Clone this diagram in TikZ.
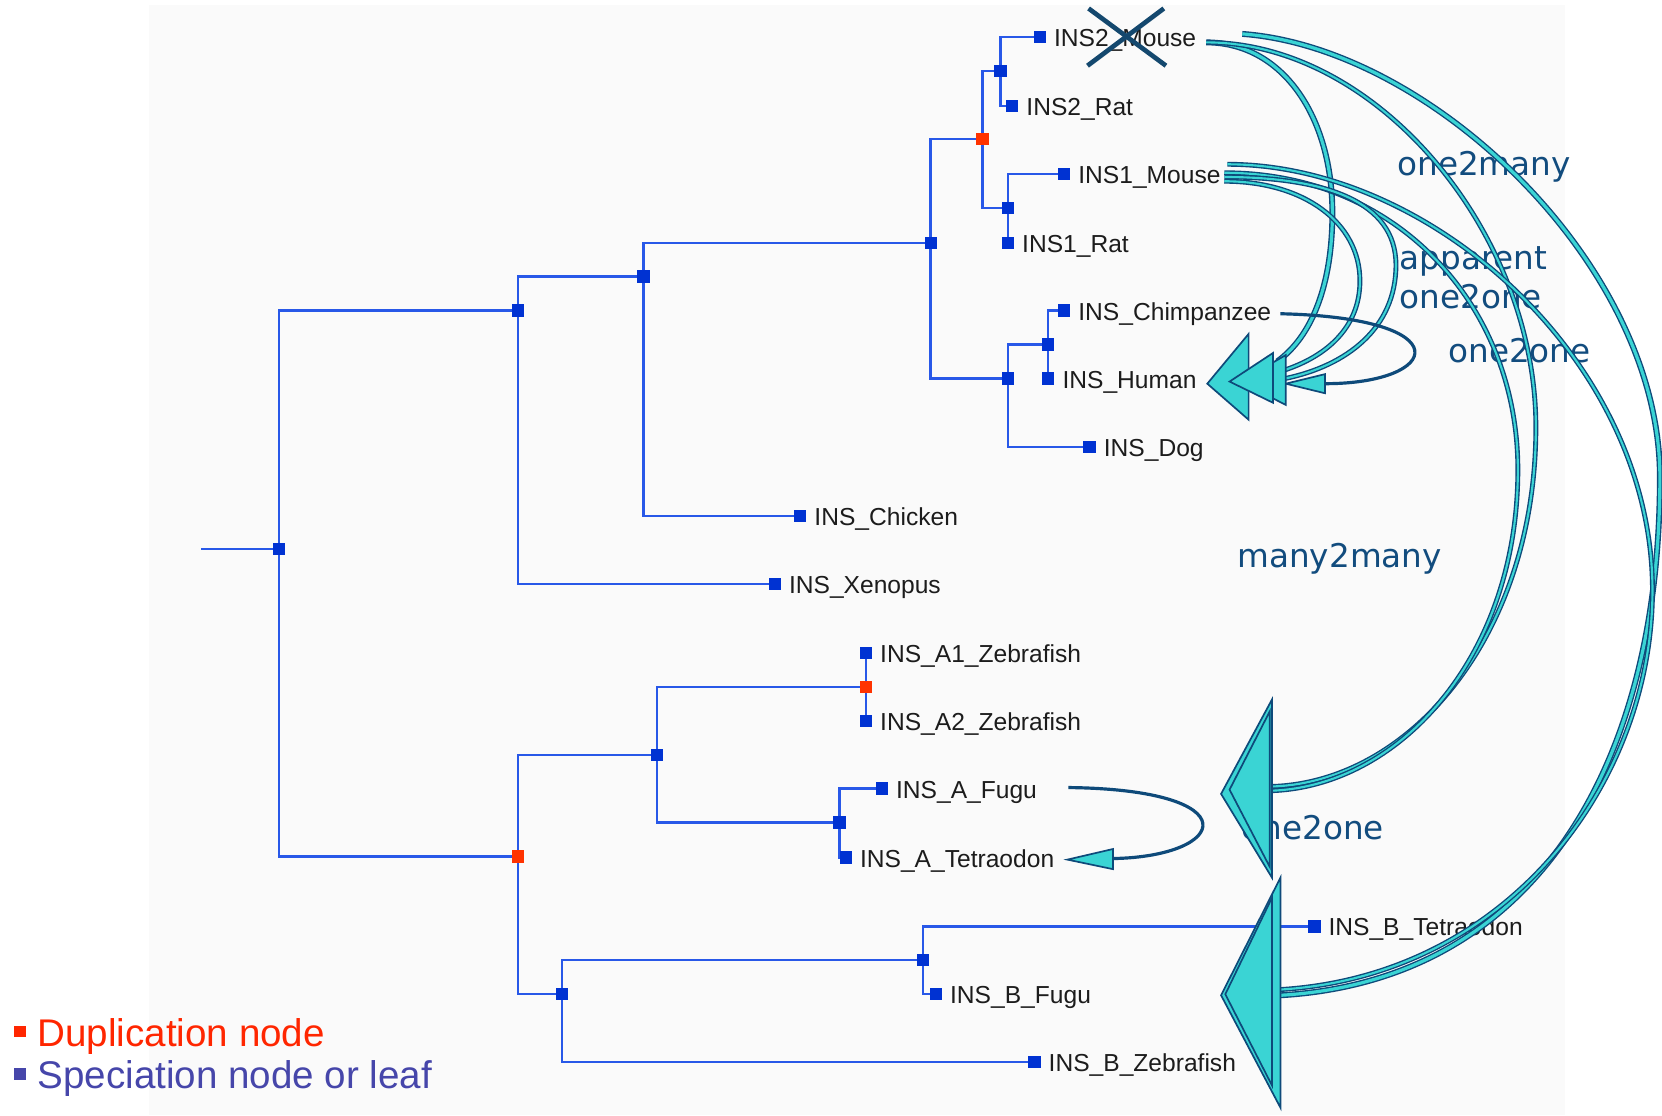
\documentclass[tikz,border=0pt]{standalone}
\usepackage{fontspec}
\setmainfont{Liberation Sans}
\newfontfamily\relfont{DejaVu Sans}
\usetikzlibrary{backgrounds}

\definecolor{panelgray}{RGB}{250,250,250}
\definecolor{treeblue}{RGB}{40,88,232}
\definecolor{specblue}{RGB}{0,50,210}
\definecolor{dupred}{RGB}{255,51,0}
\definecolor{labgray}{RGB}{28,28,28}
\definecolor{reldark}{RGB}{14,74,122}
\definecolor{relcyan}{RGB}{58,212,212}
\definecolor{reltextc}{RGB}{18,76,126}
\definecolor{crossc}{RGB}{20,72,110}
\definecolor{legred}{RGB}{255,38,0}
\definecolor{legblue}{RGB}{70,70,170}

\begin{document}
\begin{tikzpicture}[x=0.5pt,y=-0.5pt,
  spec/.style={rectangle, fill=specblue, minimum size=5.8pt, inner sep=0pt},
  dup/.style={rectangle, fill=dupred, minimum size=5.8pt, inner sep=0pt},
  lab/.style={anchor=base west, inner sep=0pt, text=labgray, font=\fontsize{11.6}{14}\selectfont},
  branch/.style={draw=treeblue, line width=1.1pt},
  rel/.style={draw=reldark, line width=0.65pt, double=relcyan, double distance=1.0pt},
  relthick/.style={rel, double distance=1.5pt},
  loopline/.style={draw=reldark, line width=1.5pt},
  head/.style={fill=relcyan, draw=reldark, line width=0.8pt, line join=miter},
  reltext/.style={anchor=base west, inner sep=0pt, text=reltextc, font=\relfont\fontsize{15.4}{18}\selectfont},
  legtext/.style={anchor=base west, inner sep=0pt, font=\fontsize{18.2}{22}\selectfont},
  legbox/.style={rectangle, minimum size=5.5pt, inner sep=0pt},
  crossline/.style={draw=crossc, line width=2.2pt}
]
\useasboundingbox (0,0) rectangle (1568,1052);

% ---------- tree: internal nodes ----------
\coordinate (stub) at (190,518);
\node[spec] (root) at (263,518) {};
\node[spec] (n1) at (489,293) {};
\node[spec] (n2) at (607,261) {};
\node[spec] (n3) at (878,229) {};
\node[dup]  (d1) at (927,131) {};
\node[spec] (n4) at (944,67) {};
\node[spec] (n5) at (951,196) {};
\node[spec] (n6) at (951,357) {};
\node[spec] (n7) at (989,325) {};
\node[dup]  (d2) at (489,808) {};
\node[spec] (n8) at (620,712) {};
\node[dup]  (d3) at (817,648) {};
\node[spec] (n9) at (792,776) {};
\node[spec] (n10) at (530,938) {};
\node[spec] (n11) at (871,906) {};

% ---------- tree: leaves ----------
\node[spec] (mouse2) at (981,35) {};
\node[spec] (rat2) at (955,100) {};
\node[spec] (mouse1) at (1004,164) {};
\node[spec] (rat1) at (951,229) {};
\node[spec] (chimp) at (1004,293) {};
\node[spec] (human) at (989,357) {};
\node[spec] (dog) at (1028,422) {};
\node[spec] (chicken) at (755,487) {};
\node[spec] (xenopus) at (731,551) {};
\node[spec] (zfa1) at (817,616) {};
\node[spec] (zfa2) at (817,680) {};
\node[spec] (fugua) at (832,744) {};
\node[spec] (tetra) at (798,809) {};
\node[spec] (tetrb) at (1240,874) {};
\node[spec] (fugub) at (883,938) {};
\node[spec] (zfb) at (976,1002) {};

\node[lab] (tmouse2) at (994,44) {INS2\_Mouse};
\node[lab] (trat2) at (968,109) {INS2\_Rat};
\node[lab] (tmouse1) at (1017,173) {INS1\_Mouse};
\node[lab] (trat1) at (964,238) {INS1\_Rat};
\node[lab] (tchimp) at (1017,302) {INS\_Chimpanzee};
\node[lab] (thuman) at (1002,367) {INS\_Human};
\node[lab] (tdog) at (1041,431) {INS\_Dog};
\node[lab] (tchicken) at (768,496) {INS\_Chicken};
\node[lab] (txenopus) at (744,560) {INS\_Xenopus};
\node[lab] (tzfa1) at (830,625) {INS\_A1\_Zebrafish};
\node[lab] (tzfa2) at (830,689) {INS\_A2\_Zebrafish};
\node[lab] (tfugua) at (845,753) {INS\_A\_Fugu};
\node[lab] (ttetra) at (811,818) {INS\_A\_Tetraodon};
\node[lab] (ttetrb) at (1253,883) {INS\_B\_Tetraodon};
\node[lab] (tfugub) at (896,947) {INS\_B\_Fugu};
\node[lab] (tzfb) at (989,1011) {INS\_B\_Zebrafish};

% ---------- panel and branches behind the markers ----------
\begin{scope}[on background layer]
  \fill[panelgray] (141,5) rectangle (1476,1052);
  \draw[branch] (stub) -- (root.center);
  \foreach \p/\c in {root/n1, root/d2, n1/n2, n1/xenopus, n2/n3, n2/chicken,
      n3/d1, n3/n6, d1/n4, d1/n5, n4/mouse2, n4/rat2, n5/mouse1, n5/rat1,
      n6/n7, n6/dog, n7/chimp, n7/human, d2/n8, d2/n10, n8/d3, n8/n9,
      d3/zfa1, d3/zfa2, n9/fugua, n9/tetra, n10/n11, n10/zfb,
      n11/tetrb, n11/fugub}
    \draw[branch] (\p.center) |- (\c.center);
\end{scope}

% ---------- lost gene ----------
\draw[crossline] (1027,8) -- (1100,62);
\draw[crossline] (1098,8) -- (1026,62);

% ---------- relation labels ----------
\node[reltext] (r1) at (1318,166) {one2many};
\node[reltext] (r2) at (1320,254) {apparent};
\node[reltext] (r3) at (1320,291) {one2one};
\node[reltext] (r4) at (1366,342) {one2one};
\node[reltext] (r5) at (1167,535) {many2many};
\node[reltext] (r6) at (1171,792) {one2one};

% ---------- connector ends ----------
\coordinate (s2a) at (1138,40);
\coordinate (s2b) at (1172,32);
\coordinate (s1a) at (1158,155);
\coordinate (s1b) at (1155,163);
\coordinate (s1c) at (1155,167);
\coordinate (s1d) at (1155,171);
\coordinate (hA) at (1205,341);
\coordinate (hB) at (1206,351);
\coordinate (hC) at (1213,357);
\coordinate (hD) at (1250,362);
\coordinate (eA) at (1200,742);
\coordinate (eB) at (1199,746);
\coordinate (fA) at (1208,939);
\coordinate (fB) at (1200,934);
\coordinate (chs) at (1208,296);
\coordinate (fus) at (1008,743);
\coordinate (fue) at (1050,810);

% ---------- orthology connectors ----------
\draw[relthick] (s2a) .. controls (1210,40) and (1257,110) .. (1257,201)
                      .. controls (1257,270) and (1237,318) .. (hA);
\draw[rel] (s2a) .. controls (1300,40) and (1449,220) .. (1449,403)
                 .. controls (1449,600) and (1330,738) .. (eA);
\draw[relthick] (s2b) .. controls (1350,45) and (1566,250) .. (1566,450)
                      .. controls (1566,720) and (1450,925) .. (fA);
\draw[rel] (s1a) .. controls (1350,155) and (1559,340) .. (1559,557)
                 .. controls (1559,740) and (1420,925) .. (fB);
\draw[rel] (s1b) .. controls (1320,163) and (1432,290) .. (1432,443)
                 .. controls (1432,620) and (1320,742) .. (eB);
\draw[rel] (s1c) .. controls (1250,167) and (1317,190) .. (1317,250)
                 .. controls (1317,310) and (1270,345) .. (hC);
\draw[rel] (s1d) .. controls (1230,171) and (1283,210) .. (1283,265)
                 .. controls (1283,310) and (1250,338) .. (hB);
\draw[loopline] (chs) .. controls (1380,300) and (1360,362) .. (hD);
\draw[loopline] (fus) .. controls (1180,745) and (1160,808) .. (fue);

% ---------- arrow heads ----------
\draw[head] (1139,362) -- (1178,315) -- (1178,396) -- cycle;
\draw[head] (1213,362) -- (1250,353) -- (1250,371) -- cycle;
\draw[head] (1170,360) -- (1213,335) -- (1213,382) -- cycle;
\draw[head] (1160,360) -- (1201,333) -- (1201,380) -- cycle;
\draw[head] (1007,811) -- (1050,801) -- (1050,820) -- cycle;
\draw[head] (1152,749) -- (1200,660) -- (1200,828) -- cycle;
\draw[head] (1160,745) -- (1198,671) -- (1198,818) -- cycle;
\draw[head] (1152,939) -- (1208,828) -- (1208,1045) -- cycle;
\draw[head] (1156,938) -- (1200,847) -- (1200,1024) -- cycle;

% ---------- legend ----------
\node[legbox, fill=legred] (kdup) at (19,973) {};
\node[legtext, text=legred] (tdup) at (35,987) {Duplication node};
\node[legbox, fill=legblue] (kspec) at (19,1013) {};
\node[legtext, text=legblue] (tspec) at (35,1027) {Speciation node or leaf};
\end{tikzpicture}
\end{document}
